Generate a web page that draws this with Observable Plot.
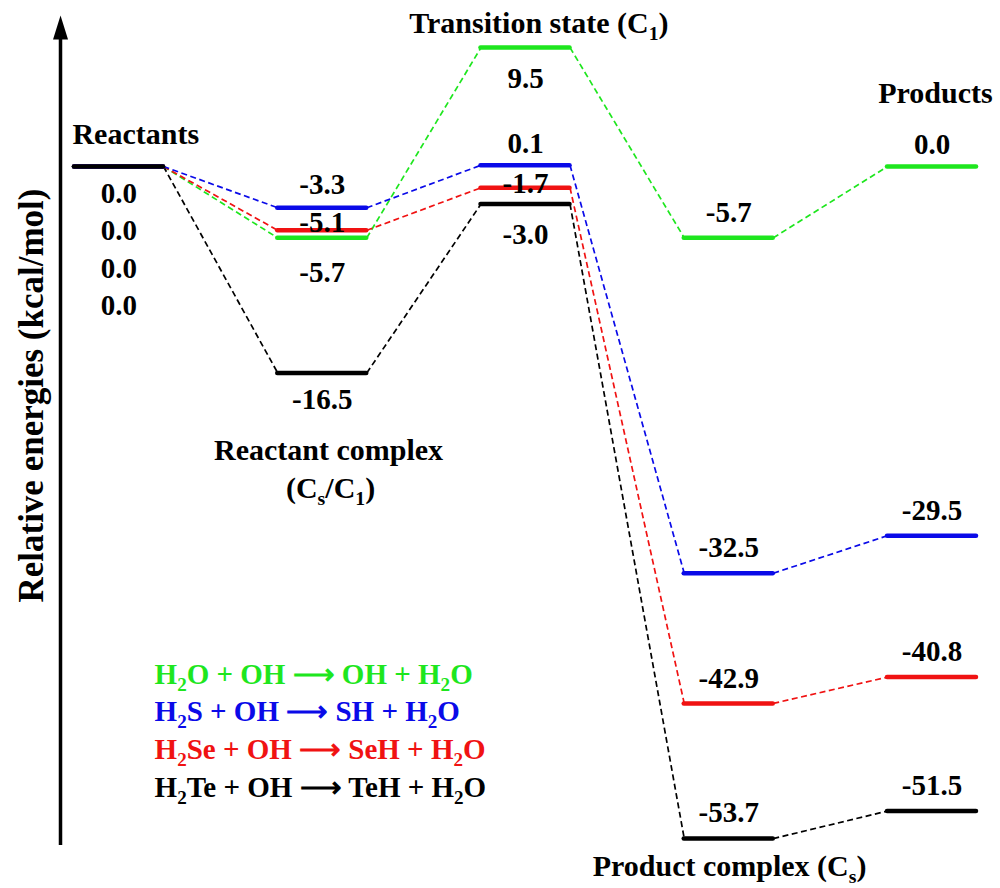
<!DOCTYPE html>
<html><head><meta charset="utf-8">
<script src="https://cdn.jsdelivr.net/npm/d3@7"></script>
<script src="https://cdn.jsdelivr.net/npm/@observablehq/plot@0.6"></script>
<style>body{margin:0;background:#fff}</style>
</head><body><div id="chart"></div>
<script>
// ---- data ----
const stages = ["Reactants", "Reactant complex", "Transition state", "Product complex", "Products"];
const reactions = ["H2O", "H2S", "H2Se", "H2Te"];
const h2o  = [0.0, -5.7,  9.5,  -5.7,   0.0];
const h2s  = [0.0, -3.3,  0.1, -32.5, -29.5];
const h2se = [0.0, -5.1, -1.7, -42.9, -40.8];
const h2te = [0.0, -16.5, -3.0, -53.7, -51.5];
const legendLabels = [
  "H_2O + OH ⟶ OH + H_2O",
  "H_2S + OH ⟶ SH + H_2O",
  "H_2Se + OH ⟶ SeH + H_2O",
  "H_2Te + OH ⟶ TeH + H_2O"
];
const yLabel = "Relative energies (kcal/mol)";

// ---- styles / layout ----
const colors = ["#1ee61e", "#0a0ae8", "#f01212", "#000000"];
const labelDy = [            // label offset from its level, in pixels
  [27, 35, 31, -25, -22],
  [64, -23, -22, -26, -25],
  [102, -8, -4, -25, -25],
  [139, 27, 31, -26, -25]
];
const W = 1000, H = 888;
const hw = 0.219;              // half width of an energy level (stage units)
const xDomain = [-0.2878, 4.337];
const yDomain = [-57.69, 13.264];
const pxPerUnit = H / (yDomain[1] - yDomain[0]);
const axisBottom = -54.25, axisTip = 12.07;
const annotations = [
  {text: "Reactants", x: -0.229, y: 2.56, anchor: "start"},
  {text: "Reactant complex", x: 1.031, y: -22.69, anchor: "middle"},
  {text: "(C_s/C_1)", x: 1.041, y: -25.7, anchor: "middle"},
  {text: "Transition state (C_1)", x: 2.066, y: 11.43, anchor: "middle"},
  {text: "Product complex (C_s)", x: 3.004, y: -55.9, anchor: "middle"},
  {text: "Products", x: 4.017, y: 5.83, anchor: "middle"}
];
const legendPos = {x: 0.175, y: -40.59, step: 37.7};
const yLabelPos = {x: -0.43, y: -18.3};
const font = "'Liberation Serif', 'Times New Roman', serif";

// ---- derived tables ----
const series = [h2o, h2s, h2se, h2te];
const levels = [];
const links = [];
series.forEach((vals, r) => {
  vals.forEach((e, s) => {
    levels.push({r, s, e, ly: e - labelDy[r][s] / pxPerUnit, label: e.toFixed(1)});
    if (s < vals.length - 1) links.push({r, x1: s + hw, y1: e, x2: s + 1 - hw, y2: vals[s + 1]});
  });
});
const drawOrder = [0, 2, 1, 3];
const levelsSorted = drawOrder.flatMap(r => levels.filter(d => d.r === r));
const linksSorted = drawOrder.flatMap(r => links.filter(d => d.r === r));
const legend = legendLabels.map((t, i) => ({t, i, y: legendPos.y - i * legendPos.step / pxPerUnit}));

const arrowHead = {draw(ctx) { ctx.moveTo(0, 0); ctx.lineTo(-7.5, 24); ctx.lineTo(7.5, 24); ctx.closePath(); }};

const chart = Plot.plot({
  width: W, height: H,
  marginLeft: 60, marginRight: 0, marginTop: 0, marginBottom: 0,
  x: {domain: xDomain, axis: null},
  y: {domain: yDomain, axis: null},
  style: {fontFamily: font, background: "white"},
  marks: [
    Plot.ruleX([xDomain[0]], {x: d => d, y1: axisBottom, y2: axisTip - 1.2, stroke: "black", strokeWidth: 3.5}),
    Plot.dot([xDomain[0]], {x: d => d, y: () => axisTip, symbol: arrowHead, fill: "black", stroke: "none"}),
    Plot.link(linksSorted, {x1: "x1", y1: "y1", x2: "x2", y2: "y2", stroke: d => colors[d.r], strokeWidth: 1.7, strokeDasharray: "6,3.5"}),
    Plot.ruleY(levelsSorted, {y: "e", x1: d => d.s - hw, x2: d => d.s + hw, stroke: d => colors[d.r], strokeWidth: 4.5, strokeLinecap: "round"}),
    Plot.text(levels, {x: "s", y: "ly", text: "label", fontSize: 29, fontWeight: "bold", fill: "black"}),
    Plot.text(annotations, {x: "x", y: "y", text: "text", textAnchor: "start", filter: d => d.anchor === "start", fontSize: 30, fontWeight: "bold", fill: "black"}),
    Plot.text(annotations, {x: "x", y: "y", text: "text", filter: d => d.anchor === "middle", fontSize: 30, fontWeight: "bold", fill: "black"}),
    Plot.text(legend, {x: () => legendPos.x, y: "y", text: "t", textAnchor: "start", fill: d => colors[d.i], fontSize: 29, fontWeight: "bold"}),
    Plot.text([yLabel], {x: () => yLabelPos.x, y: () => yLabelPos.y, text: d => d, rotate: -90, fontSize: 35, fontWeight: "bold", fill: "black"})
  ]
});
document.getElementById("chart").appendChild(chart);

// subscripts: "_x" -> subscript x
chart.querySelectorAll("text").forEach(t => {
  const s = t.textContent;
  if (!s.includes("_")) return;
  const fs = parseFloat(getComputedStyle(t).fontSize) || 29;
  const parts = [];
  let i = 0;
  while (i < s.length) {
    if (s[i] === "_") { parts.push({sub: true, txt: s[i + 1]}); i += 2; }
    else { let j = i; while (j < s.length && s[j] !== "_") j++; parts.push({sub: false, txt: s.slice(i, j)}); i = j; }
  }
  t.textContent = "";
  let off = 0;
  parts.forEach(p => {
    const ts = document.createElementNS("http://www.w3.org/2000/svg", "tspan");
    ts.textContent = p.txt;
    const target = p.sub ? fs * 0.24 : 0;
    if (target !== off) ts.setAttribute("dy", (target - off).toFixed(2));
    off = target;
    if (p.sub) ts.setAttribute("font-size", (fs * 0.66).toFixed(1));
    t.appendChild(ts);
  });
});
</script></body></html>
